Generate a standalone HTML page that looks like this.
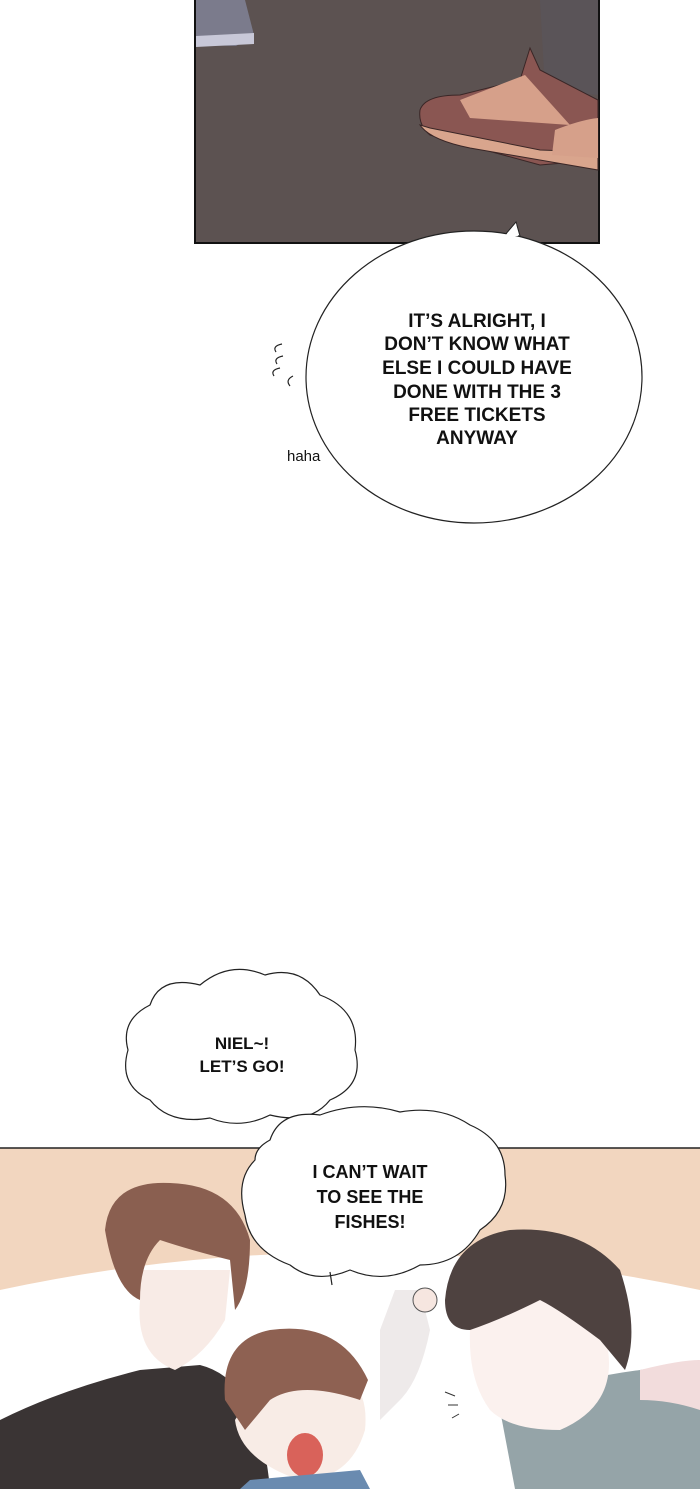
<!DOCTYPE html>
<html><head><style>
html,body{margin:0;padding:0;background:#fff;}
svg{display:block;}
text{font-family:"Liberation Sans",sans-serif;font-weight:bold;fill:#111;}
</style></head><body>
<svg width="700" height="1489" viewBox="0 0 700 1489" xmlns="http://www.w3.org/2000/svg">
<rect width="700" height="1489" fill="#fff"/>
<!-- top panel -->
<rect x="195" y="-5" width="404" height="248" fill="#5c5251" stroke="#111" stroke-width="2"/>
<path d="M540 0 L545 90 L598 95 L598 0Z" fill="#5a5458"/>
<path d="M196 0 L245 0 L254 35 L236 46 L196 45Z" fill="#7b7b8c"/>
<path d="M196 36 L254 33 L254 44 L196 47Z" fill="#c8c8d8"/>
<path d="M420 110 Q425 95 460 95 L520 80 L530 48 L540 70 L598 100 L598 160 L540 165 L430 135 Q418 125 420 110Z" fill="#8a5652" stroke="#3a2626" stroke-width="1"/>
<path d="M460 100 L525 75 L570 125 L470 118Z" fill="#d6a08a"/>
<path d="M420 125 Q430 140 470 148 L598 170 L598 152 L540 150 L430 128Z" fill="#d9a58d" stroke="#3a2626" stroke-width="1"/>
<path d="M555 130 Q580 120 598 118 L598 158 L552 155Z" fill="#d6a08a"/>
<!-- bubble 1 -->
<path d="M505 235 L516 222 L520 236Z" fill="#fff" stroke="#222" stroke-width="1"/>
<ellipse cx="474" cy="377" rx="168" ry="146" fill="#fff" stroke="#222" stroke-width="1.2"/>
<path d="M505 236 L516 223 L518 236" fill="#fff"/>
<g font-size="19" text-anchor="middle">
<text x="477" y="327">IT’S ALRIGHT, I</text>
<text x="477" y="350">DON’T KNOW WHAT</text>
<text x="477" y="374">ELSE I COULD HAVE</text>
<text x="477" y="398">DONE WITH THE 3</text>
<text x="477" y="421">FREE TICKETS</text>
<text x="477" y="444">ANYWAY</text>
</g>
<g fill="none" stroke="#222" stroke-width="1.2">
<path d="M282 344 Q272 346 276 352"/><path d="M283 356 Q273 358 277 364"/>
<path d="M280 368 Q270 370 274 376"/><path d="M293 376 Q285 380 290 386"/>
</g>
<text x="287" y="461" font-size="15" style="font-weight:normal">haha</text>
<!-- cloud bubble 2 -->
<path d="M150 1005 Q160 975 200 985 Q230 960 265 975 Q300 965 320 995 Q360 1010 355 1050 Q365 1085 330 1100 Q310 1125 270 1115 Q240 1130 210 1118 Q170 1125 150 1100 Q118 1085 128 1050 Q120 1020 150 1005Z" fill="#fff" stroke="#222" stroke-width="1.2"/>
<g font-size="17" text-anchor="middle">
<text x="242" y="1049">NIEL~!</text>
<text x="242" y="1072">LET’S GO!</text>
</g>
<path d="M290 1120 L293 1135" stroke="#222" stroke-width="1.2"/>
<!-- bottom panel -->
<rect x="0" y="1148" width="700" height="341" fill="#f2d6bf"/>
<line x1="0" y1="1148" x2="700" y2="1148" stroke="#222" stroke-width="1.5"/>
<path d="M0 1290 Q350 1215 700 1290 L700 1489 L0 1489Z" fill="#fff"/>
<!-- left man -->
<path d="M0 1420 Q60 1390 140 1370 L200 1365 Q260 1380 270 1489 L0 1489Z" fill="#3a3434"/>
<path d="M140 1300 Q135 1355 175 1370 Q205 1355 225 1320 L230 1270 L140 1270Z" fill="#f8ebe6"/>
<path d="M105 1230 Q110 1180 170 1183 Q235 1185 250 1240 Q250 1290 235 1310 L230 1260 Q190 1250 160 1240 Q140 1260 140 1300 Q115 1290 105 1230Z" fill="#8a5f50"/>
<!-- kid -->
<path d="M380 1330 L395 1290 L420 1290 L430 1330 Q420 1380 400 1400 L380 1420Z" fill="#eeeaea"/>
<circle cx="425" cy="1300" r="12" fill="#f6e6e0" stroke="#555" stroke-width="1"/>
<path d="M235 1420 Q240 1460 300 1480 Q350 1480 365 1430 Q370 1380 330 1370 L260 1380Z" fill="#f8ece6"/>
<path d="M225 1400 Q220 1340 270 1330 Q340 1320 368 1380 L360 1400 Q300 1380 270 1400 L245 1430Z" fill="#8e6152"/>
<ellipse cx="305" cy="1455" rx="18" ry="22" fill="#d9625a"/>
<path d="M250 1480 L360 1470 L370 1489 L240 1489Z" fill="#6a8bb0"/>
<!-- right man -->
<path d="M500 1410 Q560 1380 640 1370 L700 1360 L700 1489 L515 1489Z" fill="#95a4a8"/>
<path d="M640 1370 Q680 1360 700 1360 L700 1410 Q670 1400 640 1400Z" fill="#f2dcdc"/>
<path d="M470 1330 Q480 1300 540 1295 L600 1320 Q630 1400 560 1430 Q510 1430 490 1410 Q468 1380 470 1330Z" fill="#fbf1ee"/>
<path d="M445 1300 Q450 1240 510 1230 Q580 1225 620 1270 Q640 1330 625 1370 L600 1340 Q560 1310 540 1300 Q500 1320 470 1330 Q445 1330 445 1300Z" fill="#4e4240"/>
<g stroke="#333" stroke-width="1"><line x1="445" y1="1392" x2="455" y2="1396"/><line x1="448" y1="1405" x2="458" y2="1405"/><line x1="452" y1="1418" x2="459" y2="1414"/></g>
<!-- cloud bubble 3 -->
<path d="M270 1140 Q280 1110 320 1115 Q360 1100 400 1112 Q440 1105 470 1125 Q505 1140 505 1175 Q510 1210 480 1230 Q460 1265 420 1265 Q385 1285 350 1270 Q315 1285 290 1265 Q250 1250 245 1215 Q235 1180 255 1160 Q255 1148 270 1140Z" fill="#fff" stroke="#222" stroke-width="1.2"/>
<path d="M330 1272 L332 1285" stroke="#222" stroke-width="1.2"/>
<g font-size="18" text-anchor="middle">
<text x="370" y="1178">I CAN’T WAIT</text>
<text x="370" y="1203">TO SEE THE</text>
<text x="370" y="1228">FISHES!</text>
</g>
</svg>
</body></html>
